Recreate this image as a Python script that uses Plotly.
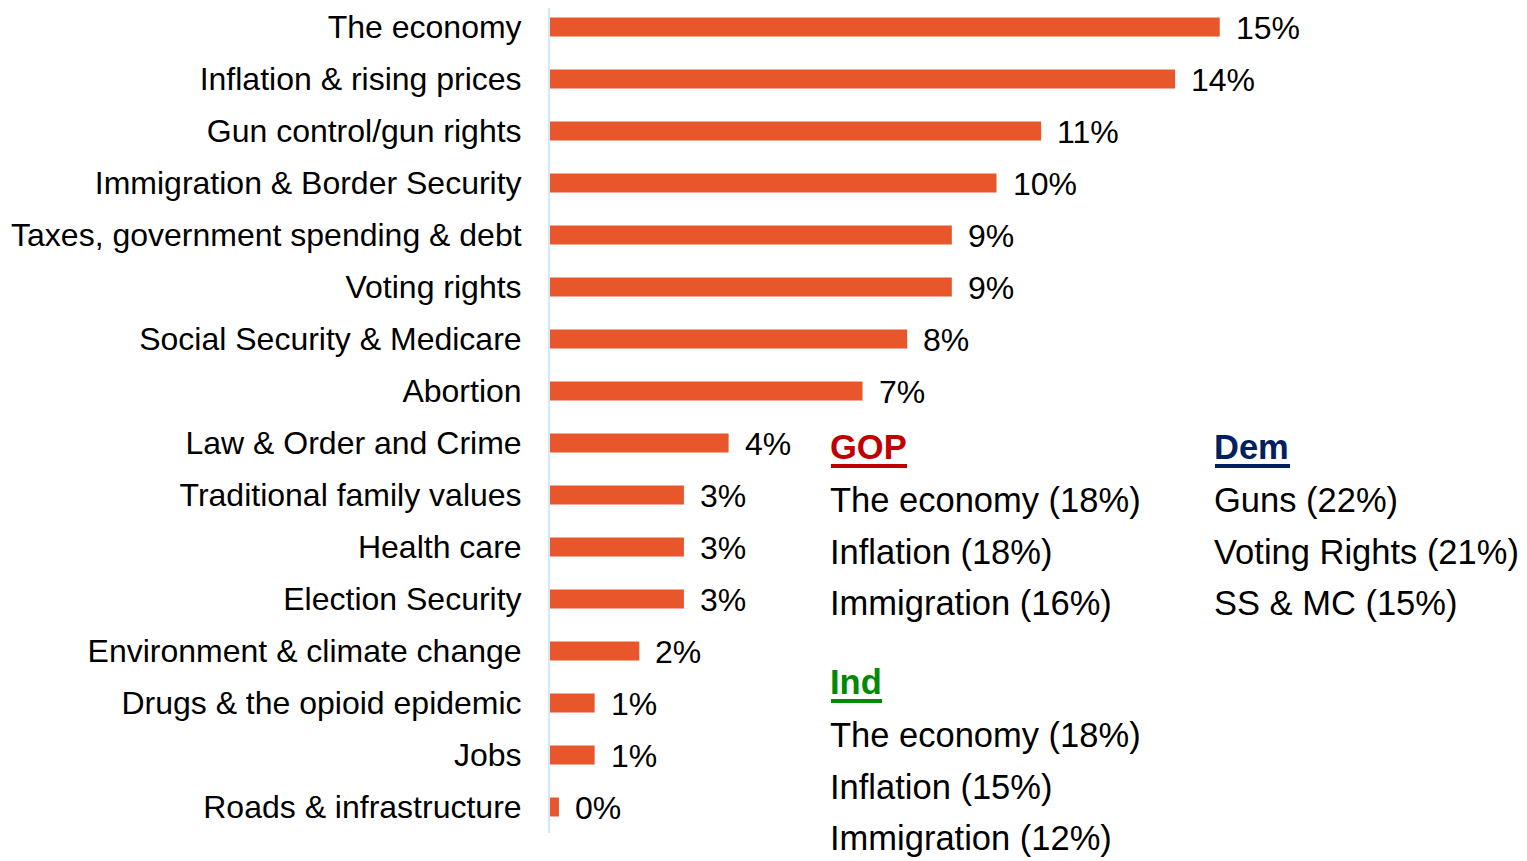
import plotly.graph_objects as go

categories = [
    "The economy", "Inflation & rising prices", "Gun control/gun rights",
    "Immigration & Border Security", "Taxes, government spending & debt",
    "Voting rights", "Social Security & Medicare", "Abortion",
    "Law & Order and Crime", "Traditional family values", "Health care",
    "Election Security", "Environment & climate change",
    "Drugs & the opioid epidemic", "Jobs", "Roads & infrastructure",
]
values = [15, 14, 11, 10, 9, 9, 8, 7, 4, 3, 3, 3, 2, 1, 1, 0.2]
value_labels = ["15%", "14%", "11%", "10%", "9%", "9%", "8%", "7%", "4%",
                "3%", "3%", "3%", "2%", "1%", "1%", "0%"]

gop_items = ["The economy (18%)", "Inflation (18%)", "Immigration (16%)"]
dem_items = ["Guns (22%)", "Voting Rights (21%)", "SS & MC (15%)"]
ind_items = ["The economy (18%)", "Inflation (15%)", "Immigration (12%)"]

OFF = 8  # page body margin
W, H = 1527 - OFF, 861 - OFF
L, R, T, B = 542, 84, 0, 28
BAR_COLOR = "#E8572C"
SANS = "Liberation Sans, Arial, sans-serif"
NARROW = "Arial Narrow, Liberation Sans Narrow, Liberation Sans, sans-serif"
NSIZE = 34.5

fig = go.Figure(go.Bar(
    x=values, y=categories, orientation="h",
    marker=dict(color=BAR_COLOR, line=dict(width=0)),
    hoverinfo="skip",
))

for c, v, t in zip(categories, values, value_labels):
    fig.add_annotation(x=v, y=c, xref="x", yref="y", text=t, showarrow=False,
                       xanchor="left", yanchor="middle", xshift=14, yshift=-1,
                       font=dict(family=SANS, size=32, color="#000000"))

pw = W - L - R
ph = H - T - B


def px_x(sx):
    return (sx - OFF - L) / pw


def px_y(sy):
    return (H - B - (sy - OFF)) / ph


def block(x_px, y_head, head, color, items, ul_w):
    fig.add_annotation(x=px_x(x_px), y=px_y(y_head), xref="paper", yref="paper",
                       text="<b>" + head + "</b>", showarrow=False,
                       xanchor="left", yanchor="middle", xshift=-3,
                       font=dict(family=NARROW, size=NSIZE, color=color))
    fig.add_shape(type="line", xref="paper", yref="paper",
                  x0=px_x(x_px), x1=px_x(x_px + ul_w),
                  y0=px_y(y_head + 19), y1=px_y(y_head + 19),
                  line=dict(color=color, width=4))
    for i, it in enumerate(items):
        fig.add_annotation(x=px_x(x_px), y=px_y(y_head + 53 + 51.5 * i),
                           xref="paper", yref="paper", text=it, showarrow=False,
                           xanchor="left", yanchor="middle", xshift=-3,
                           font=dict(family=NARROW, size=NSIZE, color="#000000"))


block(831, 447, "GOP", "#C00000", gop_items, 76)
block(1215, 447, "Dem", "#002060", dem_items, 75)
block(831, 682, "Ind", "#008A00", ind_items, 51)

n = len(categories)
top_idx = -0.5 + (OFF + T - 1) / 52.0
fig.update_layout(
    width=W, height=H,
    margin=dict(l=L, r=R, t=T, b=B, pad=0),
    paper_bgcolor="white", plot_bgcolor="white",
    bargap=0.635, showlegend=False,
    xaxis=dict(range=[0, 20], showgrid=False, zeroline=False,
               showticklabels=False, showline=False, fixedrange=True),
    yaxis=dict(range=[n - 0.5, top_idx], showgrid=False, zeroline=False,
               showline=True, linecolor="#D5E8F7", linewidth=2,
               ticks="", ticklabelstandoff=20,
               tickfont=dict(family=SANS, size=32, color="#000000")),
)

fig.write_html("out.html")
